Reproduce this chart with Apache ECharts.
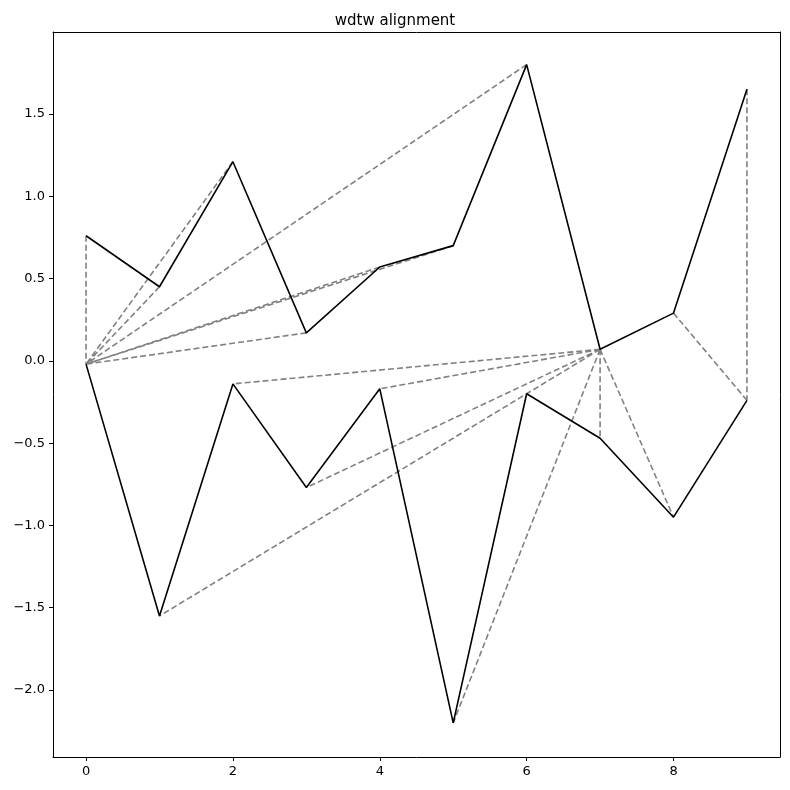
<!DOCTYPE html>
<html><head><meta charset="utf-8">
<script src="https://cdn.jsdelivr.net/npm/echarts@6/dist/echarts.min.js"></script>
<style>html,body{margin:0;padding:0;background:#fff}#c{width:790px;height:790px}</style>
</head><body><div id="c"></div>
<script>
const xs = [0,1,2,3,4,5,6,7,8,9];
const seriesA = [0.76,0.45,1.21,0.17,0.57,0.70,1.80,0.07,0.29,1.65];
const seriesB = [-0.02,-1.55,-0.14,-0.77,-0.17,-2.20,-0.20,-0.47,-0.95,-0.24];
// alignment pairs [indexA, indexB]
const pairs = [[0,0],[1,0],[2,0],[3,0],[4,0],[5,0],[6,0],[7,1],[7,2],[7,3],[7,4],[7,5],[7,6],[7,7],[7,8],[8,9],[9,9]];
const xTicks = [0,2,4,6,8];
const yTicks = [-2.0,-1.5,-1.0,-0.5,0.0,0.5,1.0,1.5];

const alignData = [];
pairs.forEach(([a,b]) => { alignData.push([xs[a],seriesA[a]]); alignData.push([xs[b],seriesB[b]]); alignData.push([null,null]); });

const chart = echarts.init(document.getElementById('c'));
const lab = {color:'#000',fontSize:13,fontFamily:'DejaVu Sans'};
const line = {show:true,onZero:false,lineStyle:{color:'#000',width:1}};
chart.setOption({
  animation:false,
  title:{text:'wdtw alignment',left:'center',top:9,textStyle:{fontSize:15,fontWeight:'normal',color:'#000',fontFamily:'DejaVu Sans'}},
  grid:{left:53,right:10,top:32,bottom:33},
  xAxis:[
    {type:'value',min:-0.45,max:9.45,axisLine:line,splitLine:{show:false},
     axisLabel:Object.assign({customValues:xTicks},lab),axisTick:{show:true,length:4,customValues:xTicks,lineStyle:{color:'#000'}}},
    {type:'value',position:'top',min:-0.45,max:9.45,axisLine:line,splitLine:{show:false},axisLabel:{show:false},axisTick:{show:false}}
  ],
  yAxis:[
    {type:'value',min:-2.407,max:1.998,axisLine:line,splitLine:{show:false},
     axisLabel:Object.assign({customValues:yTicks,formatter:v=>v.toFixed(1).replace('-','−')},lab),
     axisTick:{show:true,length:4,customValues:yTicks,lineStyle:{color:'#000'}}},
    {type:'value',position:'right',min:-2.407,max:1.998,axisLine:line,splitLine:{show:false},axisLabel:{show:false},axisTick:{show:false}}
  ],
  series:[
    {type:'line',data:alignData,symbol:'none',connectNulls:false,lineStyle:{color:'#808080',width:1.6,type:[6,3]},z:1},
    {type:'line',data:xs.map((x,i)=>[x,seriesA[i]]),symbol:'none',lineStyle:{color:'#000',width:1.6},z:2},
    {type:'line',data:xs.map((x,i)=>[x,seriesB[i]]),symbol:'none',lineStyle:{color:'#000',width:1.6},z:2}
  ]
});
</script></body></html>
